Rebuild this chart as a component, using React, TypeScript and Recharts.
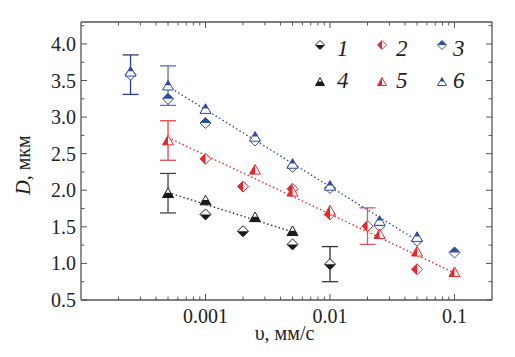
import { ScatterChart, Scatter, XAxis, YAxis, ErrorBar } from 'recharts';

// ── Data ──────────────────────────────────────────────
const xMajor = [0.001, 0.01, 0.1];
const xMinor = [
  0.0002, 0.0003, 0.0004, 0.0005, 0.0006, 0.0007, 0.0008, 0.0009,
  0.002, 0.003, 0.004, 0.005, 0.006, 0.007, 0.008, 0.009,
  0.02, 0.03, 0.04, 0.05, 0.06, 0.07, 0.08, 0.09,
];
const yMajor = [0.5, 1.0, 1.5, 2.0, 2.5, 3.0, 3.5, 4.0];
const yMinor = [0.75, 1.25, 1.75, 2.25, 2.75, 3.25, 3.75, 4.25];

// 1: black diamond
const s1V = [0.001, 0.002, 0.005, 0.01];
const s1D = [1.67, 1.44, 1.26, 0.99];
const s1E = [null, null, null, 0.24];
// 2: red diamond
const s2V = [0.001, 0.002, 0.005, 0.01, 0.02, 0.05];
const s2D = [2.43, 2.05, 2.02, 1.67, 1.51, 0.92];
const s2E = [null, null, null, null, 0.25, null];
// 3: blue diamond
const s3V = [0.00025, 0.0005, 0.001, 0.0025, 0.005, 0.01, 0.025, 0.05, 0.1];
const s3D = [3.58, 3.25, 2.92, 2.68, 2.32, 2.03, 1.51, 1.31, 1.15];
const s3E = [0.27, null, null, null, null, null, null, null, null];
// 4: black triangle
const s4V = [0.0005, 0.001, 0.0025, 0.005];
const s4D = [1.96, 1.86, 1.63, 1.44];
const s4E = [0.27, null, null, null];
// 5: red triangle
const s5V = [0.0005, 0.0025, 0.005, 0.01, 0.025, 0.05, 0.1];
const s5D = [2.68, 2.28, 1.98, 1.72, 1.4, 1.16, 0.88];
const s5E = [0.27, null, null, null, null, null, null];
// 6: blue triangle
const s6V = [0.00025, 0.0005, 0.001, 0.0025, 0.005, 0.01, 0.025, 0.05];
const s6D = [3.62, 3.43, 3.11, 2.73, 2.36, 2.06, 1.58, 1.36];
const s6E = [null, 0.27, null, null, null, null, null, null];

// dotted fit lines
const fitBlackV = [0.0005, 0.005];
const fitBlackD = [1.97, 1.43];
const fitRedV = [0.0005, 0.1];
const fitRedD = [2.72, 0.87];
const fitBlueV = [0.0005, 0.055];
const fitBlueD = [3.42, 1.27];

const BLACK = '#1a1a1a';
const RED = '#e32a2e';
const BLUE = '#2f4d9f';
const FONT = 'Liberation Serif';
const AXIS = '#555';

const pts = (v: number[], d: number[], e?: (number | null)[]) =>
  v.map((x, i) => ({ v: x, d: d[i], e: e && e[i] != null ? e[i] : undefined }));

const isMajor = (v: number) => Math.abs(Math.log10(v) - Math.round(Math.log10(v))) < 1e-6;

// ── Markers ───────────────────────────────────────────
type Half = 'bottom' | 'left' | 'top';

function Marker({ cx, cy, kind, half, color, s }: { cx: number; cy: number; kind: 'diamond' | 'triangle'; half: Half; color: string; s: number }) {
  const P = (a: number[][]) => a.map((p) => p.join(',')).join(' ');
  if (kind === 'diamond') {
    const T = [cx, cy - s], R = [cx + s, cy], B = [cx, cy + s], L = [cx - s, cy];
    const filled = half === 'bottom' ? [L, R, B] : half === 'top' ? [L, T, R] : [T, L, B];
    return (
      <g>
        <polygon points={P([T, R, B, L])} fill="#fff" />
        <polygon points={P(filled)} fill={color} />
        <polygon points={P([T, R, B, L])} fill="none" stroke={color} strokeWidth={1} />
      </g>
    );
  }
  const h = s * 1.75;
  const ay = cy - h * 0.55, by = cy + h * 0.45, my = (ay + by) / 2;
  const A = [cx, ay], BL = [cx - s, by], BR = [cx + s, by];
  const ML = [cx - s / 2, my], MR = [cx + s / 2, my], BM = [cx, by];
  const filled = half === 'bottom' ? [ML, MR, BR, BL] : half === 'top' ? [A, MR, ML] : [A, BL, BM];
  return (
    <g>
      <polygon points={P([A, BR, BL])} fill="#fff" />
      <polygon points={P(filled)} fill={color} />
      <polygon points={P([A, BR, BL])} fill="none" stroke={color} strokeWidth={1} />
    </g>
  );
}

const series = [
  { name: '1', data: pts(s1V, s1D, s1E), kind: 'diamond', half: 'bottom', color: BLACK, err: '#333' },
  { name: '2', data: pts(s2V, s2D, s2E), kind: 'diamond', half: 'left', color: RED, err: '#e2545c' },
  { name: '3', data: pts(s3V, s3D, s3E), kind: 'diamond', half: 'top', color: BLUE, err: '#2a3f85' },
  { name: '4', data: pts(s4V, s4D, s4E), kind: 'triangle', half: 'bottom', color: BLACK, err: '#444' },
  { name: '5', data: pts(s5V, s5D, s5E), kind: 'triangle', half: 'left', color: RED, err: '#e0454a' },
  { name: '6', data: pts(s6V, s6D, s6E), kind: 'triangle', half: 'top', color: BLUE, err: '#5d6db5' },
] as const;

const fits = [
  { data: pts(fitBlackV, fitBlackD), color: '#333' },
  { data: pts(fitRedV, fitRedD), color: RED },
  { data: pts(fitBlueV, fitBlueD), color: BLUE },
];

// ── Ticks ─────────────────────────────────────────────
function BottomTick({ x, y, payload }: any) {
  const major = isMajor(payload.value);
  return (
    <g>
      <line x1={x} x2={x} y1={y} y2={y - (major ? 6 : 3.5)} stroke={AXIS} strokeWidth={1} />
      {major && (
        <text x={x} y={y + 23} textAnchor="middle" fontFamily={FONT} fontSize={20} fill="#222">
          {String(payload.value)}
        </text>
      )}
    </g>
  );
}

function TopTick({ x, y, payload }: any) {
  const major = isMajor(payload.value);
  return <line x1={x} x2={x} y1={y} y2={y + (major ? 6 : 3.5)} stroke={AXIS} strokeWidth={1} />;
}

function LeftTick({ x, y, payload }: any) {
  const major = yMajor.includes(payload.value);
  return (
    <g>
      <line x1={x} x2={x + (major ? 6 : 3.5)} y1={y} y2={y} stroke={AXIS} strokeWidth={1} />
      {major && (
        <text x={x - 5} y={y + 7} textAnchor="end" fontFamily={FONT} fontSize={20} fill="#222">
          {payload.value.toFixed(1)}
        </text>
      )}
    </g>
  );
}

function RightTick({ x, y, payload }: any) {
  const major = yMajor.includes(payload.value);
  return <line x1={x} x2={x - (major ? 6 : 3.5)} y1={y} y2={y} stroke={AXIS} strokeWidth={1} />;
}

const xTicks = [...xMajor, ...xMinor].sort((a, b) => a - b);
const yTicks = [...yMajor, ...yMinor].sort((a, b) => a - b);

const axisCommon = {
  tickLine: false as const,
  tickSize: 0,
  tickMargin: 0,
  interval: 0 as const,
  axisLine: { stroke: AXIS, strokeWidth: 1.3 },
};

// ── Legend ────────────────────────────────────────────
const legendPos = [
  { x: 320, y: 45, tx: 337, ty: 56 },
  { x: 382, y: 45, tx: 396, ty: 56 },
  { x: 442, y: 45, tx: 453, ty: 56 },
  { x: 320, y: 82, tx: 337, ty: 88 },
  { x: 382, y: 82, tx: 396, ty: 88 },
  { x: 442, y: 82, tx: 453, ty: 88 },
];

function LegendOverlay() {
  return (
    <svg width={515} height={357} style={{ position: 'absolute', left: 0, top: 0, pointerEvents: 'none' }}>
      {series.map((s, i) => (
        <g key={s.name}>
          <Marker cx={legendPos[i].x} cy={legendPos[i].y} kind={s.kind} half={s.half} color={s.color} s={4.5} />
          <text x={legendPos[i].tx} y={legendPos[i].ty} fontFamily={FONT} fontStyle="italic" fontSize={23} fill="#222">
            {s.name}
          </text>
        </g>
      ))}
    </svg>
  );
}

export default function App() {
  return (
    <div style={{ position: 'absolute', left: 0, top: 0, width: 515, height: 357, background: '#fff', fontFamily: FONT }}>
      <ScatterChart width={515} height={357} margin={{ top: 0, right: 0, bottom: 0, left: 0 }}>
        <XAxis
          xAxisId="b"
          dataKey="v"
          type="number"
          scale="log"
          domain={[0.0001, 0.2]}
          allowDataOverflow
          ticks={xTicks}
          height={57}
          tick={(p: any) => <BottomTick {...p} />}
          label={(p: any) => {
            const vb = p.viewBox;
            return (
              <text x={vb.x + vb.width / 2 - 2} y={vb.y + 40} textAnchor="middle" fontFamily={FONT} fontSize={20} fill="#222">
                υ, мм/с
              </text>
            );
          }}
          {...axisCommon}
        />
        <XAxis
          xAxisId="t"
          orientation="top"
          dataKey="v"
          type="number"
          scale="log"
          domain={[0.0001, 0.2]}
          allowDataOverflow
          ticks={xTicks}
          height={22}
          tick={(p: any) => <TopTick {...p} />}
          {...axisCommon}
        />
        <YAxis
          yAxisId="l"
          dataKey="d"
          type="number"
          domain={[0.5, 4.3]}
          allowDataOverflow
          ticks={yTicks}
          width={81}
          tick={(p: any) => <LeftTick {...p} />}
          label={(p: any) => {
            const vb = p.viewBox;
            const cx = 30;
            const cy = vb.y + vb.height / 2 + 4;
            return (
              <text x={cx} y={cy} transform={`rotate(-90 ${cx} ${cy})`} textAnchor="middle" fontFamily={FONT} fontSize={20} fill="#222">
                <tspan fontStyle="italic">D</tspan>
                <tspan>, мкм</tspan>
              </text>
            );
          }}
          {...axisCommon}
        />
        <YAxis
          yAxisId="r"
          orientation="right"
          dataKey="d"
          type="number"
          domain={[0.5, 4.3]}
          allowDataOverflow
          ticks={yTicks}
          width={23}
          tick={(p: any) => <RightTick {...p} />}
          {...axisCommon}
        />
        {fits.map((f, i) => (
          <Scatter
            key={`fit${i}`}
            xAxisId="b"
            yAxisId="l"
            data={f.data}
            line={{ stroke: f.color, strokeWidth: 1.4, strokeDasharray: '1.5 2.5' }}
            shape={() => <g />}
            isAnimationActive={false}
          />
        ))}
        {series.map((s) => (
          <Scatter
            key={s.name}
            name={s.name}
            xAxisId="b"
            yAxisId="l"
            data={s.data}
            isAnimationActive={false}
            shape={(p: any) => <Marker cx={p.cx} cy={p.cy} kind={s.kind} half={s.half} color={s.color} s={5.5} />}
          >
            <ErrorBar dataKey="e" direction="y" width={8} stroke={s.err} strokeWidth={1.3} isAnimationActive={false} />
          </Scatter>
        ))}
      </ScatterChart>
      <LegendOverlay />
    </div>
  );
}
